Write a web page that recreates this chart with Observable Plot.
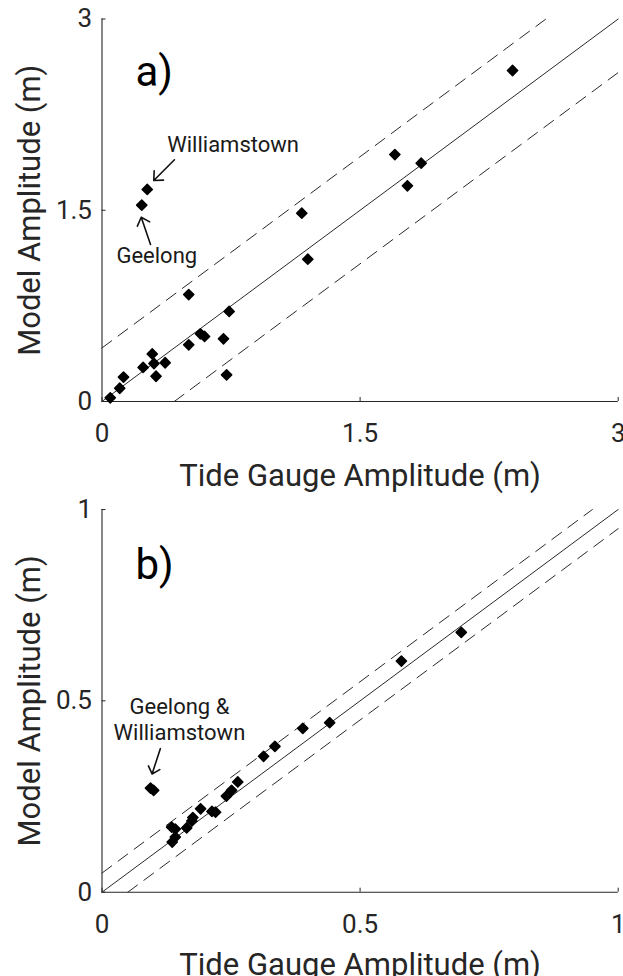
<!DOCTYPE html>
<html>
<head>
<meta charset="utf-8">
<script src="https://cdn.jsdelivr.net/npm/d3@7"></script>
<script src="https://cdn.jsdelivr.net/npm/@observablehq/plot@0.6"></script>
<style>
  html, body { margin: 0; padding: 0; background: #fff; overflow: hidden; }
  #chart svg { display: block; }
</style>
</head>
<body>
<div id="chart"></div>
<script>
// ---------- Panel a data ----------
const tideA  = [0.263, 0.231, 0.504, 0.739, 0.572, 0.596, 0.504, 0.706, 0.724, 0.292, 0.302,
                0.367, 0.239, 0.314, 0.125, 0.103, 0.048, 2.386, 1.702, 1.855, 1.775, 1.161, 1.196];
const modelA = [1.663, 1.540, 0.839, 0.706, 0.531, 0.510, 0.445, 0.492, 0.209, 0.373, 0.298,
                0.304, 0.267, 0.198, 0.191, 0.104, 0.029, 2.596, 1.937, 1.869, 1.692, 1.477, 1.116];
const ticksA = [0, 1.5, 3];
const maxA = 3;
const offsetA = 0.42;
const labelsA = ["Williamstown", "Geelong"];
const labelXA = [0.379, 0.084];
const labelYA = [1.955, 1.085];
const arrowFromXA = [0.421, 0.282];
const arrowFromYA = [1.896, 1.231];
const arrowToXA = [0.301, 0.228];
const arrowToYA = [1.733, 1.445];

// ---------- Panel b data ----------
const tideB  = [0.094, 0.100, 0.696, 0.580, 0.441, 0.389, 0.335, 0.313, 0.263, 0.251, 0.241,
                0.191, 0.213, 0.220, 0.176, 0.174, 0.164, 0.142, 0.135, 0.142, 0.136];
const modelB = [0.272, 0.266, 0.679, 0.604, 0.443, 0.428, 0.381, 0.355, 0.288, 0.266, 0.251,
                0.218, 0.211, 0.209, 0.195, 0.186, 0.168, 0.165, 0.170, 0.144, 0.131];
const ticksB = [0, 0.5, 1];
const maxB = 1;
const offsetB = 0.05;
const labelsB = ["Geelong &\nWilliamstown"];
const labelXB = [0.150];
const labelYB = [0.398];
const arrowFromXB = [0.113];
const arrowFromYB = [0.375];
const arrowToXB = [0.097];
const arrowToYB = [0.309];

const xTitle = "Tide Gauge Amplitude (m)";
const yTitle = "Model Amplitude (m)";
const ink = "#262626";

function panel(cfg) {
  const pts = cfg.tide.map((t, i) => ({t, m: cfg.model[i]}));
  const solid = [0, cfg.max].map(v => ({x: v, y: v}));
  const dashed = [
    ...[0, cfg.max - cfg.off].map(v => ({x: v, y: v + cfg.off, k: "up"})),
    ...[cfg.off, cfg.max].map(v => ({x: v, y: v - cfg.off, k: "lo"}))
  ];
  const labels = cfg.labels.map((s, i) => ({s, x: cfg.lx[i], y: cfg.ly[i]}));
  const arrows = cfg.ax1.map((v, i) => ({x1: v, y1: cfg.ay1[i], x2: cfg.ax2[i], y2: cfg.ay2[i]}));
  const frameH = cfg.height - cfg.marginTop - cfg.marginBottom;
  const frameW = 623 - cfg.marginLeft - cfg.marginRight;
  return Plot.plot({
    width: 623,
    height: cfg.height,
    marginLeft: cfg.marginLeft,
    marginRight: cfg.marginRight,
    marginTop: cfg.marginTop,
    marginBottom: cfg.marginBottom,
    style: {fontFamily: "Roboto, 'Noto Sans', sans-serif", fontSize: "26px", color: ink, background: "#fff"},
    x: {domain: [0, cfg.max]},
    y: {domain: [0, cfg.max]},
    marks: [
      Plot.line(solid, {x: "x", y: "y", stroke: "#111", strokeWidth: 0.9}),
      Plot.line(dashed, {x: "x", y: "y", z: "k", stroke: "#111", strokeWidth: 0.9, strokeDasharray: "12,8"}),
      Plot.ruleX([0], {stroke: ink, strokeWidth: 1.1}),
      Plot.ruleY([0], {stroke: ink, strokeWidth: 1.1}),
      Plot.tickX(cfg.ticks, {x: d => d, stroke: ink, strokeWidth: 1, insetTop: frameH - 4}),
      Plot.tickY(cfg.ticks, {y: d => d, stroke: ink, strokeWidth: 1, insetRight: frameW - 4}),
      Plot.axisX({ticks: cfg.ticks, tickSize: 0, tickPadding: 22, tickFormat: d => String(d), label: null, fontSize: 26}),
      Plot.axisY({ticks: cfg.ticks, tickSize: 0, tickPadding: 10, tickFormat: d => String(d), label: null, fontSize: 26}),
      Plot.text([xTitle], {text: d => d, frameAnchor: "bottom", textAnchor: "middle", lineAnchor: "bottom", dy: cfg.titleDy, fontSize: 31, fill: ink}),
      Plot.text([yTitle], {text: d => d, frameAnchor: "left", textAnchor: "middle", rotate: -90, lineAnchor: "bottom", dx: -62, fontSize: 31, fill: ink}),
      Plot.text([cfg.letter], {text: d => d, frameAnchor: "top-left", textAnchor: "start", lineAnchor: "bottom", dx: 33.5, dy: cfg.letterDy, fontSize: 42, fill: "#000"}),
      Plot.dot(pts, {x: "t", y: "m", symbol: "diamond2", r: 4.6, fill: "#000", stroke: "#000", strokeWidth: 1.5, strokeLinejoin: "round"}),
      Plot.text(labels, {x: "x", y: "y", text: "s", textAnchor: cfg.labelAnchor, lineAnchor: "bottom", lineHeight: 1.18, fontSize: 22, fill: "#1a1a1a"}),
      Plot.arrow(arrows, {x1: "x1", y1: "y1", x2: "x2", y2: "y2", stroke: "#111", strokeWidth: 1.6, headAngle: 85, headLength: 14})
    ]
  });
}

const chart = document.getElementById("chart");
chart.appendChild(panel({
  tide: tideA, model: modelA, ticks: ticksA, max: maxA, off: offsetA, letter: "a)",
  labels: labelsA, lx: labelXA, ly: labelYA, labelAnchor: "start",
  ax1: arrowFromXA, ay1: arrowFromYA, ax2: arrowToXA, ay2: arrowToYA,
  height: 495, marginTop: 18.5, marginBottom: 94, marginLeft: 101.5, marginRight: 5.3,
  titleDy: 84, letterDy: 66.5
}));
chart.appendChild(panel({
  tide: tideB, model: modelB, ticks: ticksB, max: maxB, off: offsetB, letter: "b)",
  labels: labelsB, lx: labelXB, ly: labelYB, labelAnchor: "middle",
  ax1: arrowFromXB, ay1: arrowFromYB, ax2: arrowToXB, ay2: arrowToYB,
  height: 481, marginTop: 14, marginBottom: 84.3, marginLeft: 101.5, marginRight: 5.3,
  titleDy: 83, letterDy: 69.3
}));
</script>
</body>
</html>
